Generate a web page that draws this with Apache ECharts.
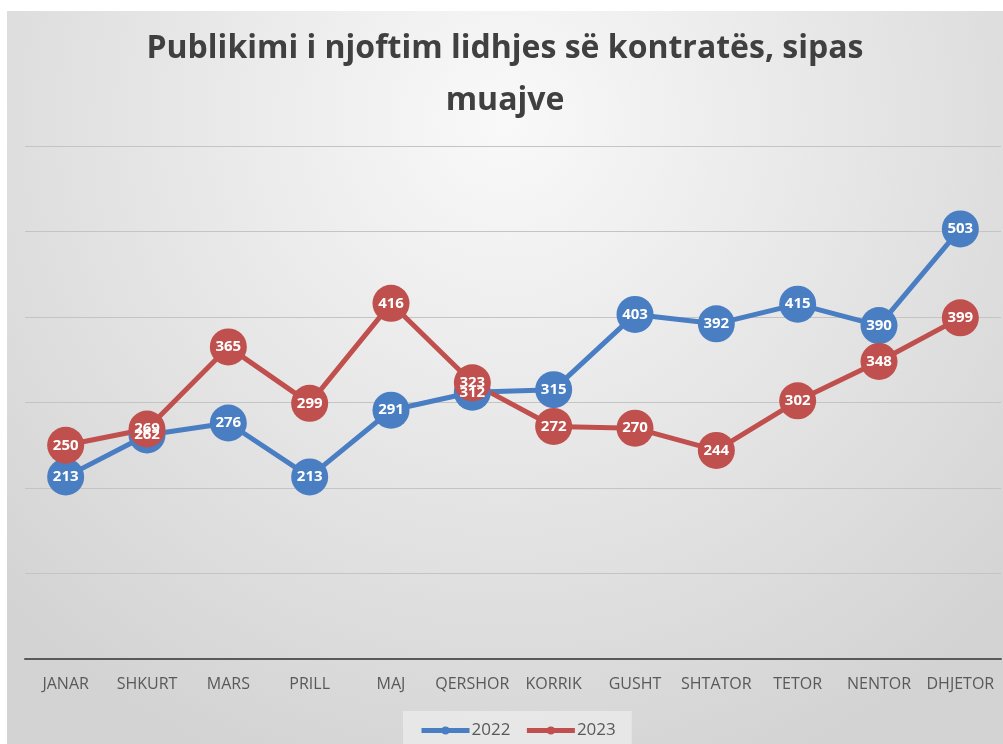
<!DOCTYPE html>
<html>
<head>
<meta charset="utf-8">
<script src="https://cdn.jsdelivr.net/npm/echarts@6/dist/echarts.min.js"></script>
<style>
  html, body { margin: 0; padding: 0; background: #fff; }
  #chart { position: absolute; left: 7px; top: 11px; width: 996px; height: 733px; }
</style>
</head>
<body>
<div id="chart"></div>
<script>
var months = ['JANAR', 'SHKURT', 'MARS', 'PRILL', 'MAJ', 'QERSHOR', 'KORRIK', 'GUSHT', 'SHTATOR', 'TETOR', 'NENTOR', 'DHJETOR'];
var values2022 = [213, 262, 276, 213, 291, 312, 315, 403, 392, 415, 390, 503];
var values2023 = [250, 269, 365, 299, 416, 323, 272, 270, 244, 302, 348, 399];

var blue = '#4a7ec2';
var red = '#c0504d';

var chart = echarts.init(document.getElementById('chart'));

function lineSeries(name, data, color) {
    return {
        name: name,
        type: 'line',
        data: data,
        symbol: 'circle',
        symbolSize: 37,
        lineStyle: { color: color, width: 5 },
        itemStyle: { color: color },
        label: {
            show: true,
            position: 'inside',
            color: '#fff',
            fontWeight: 'bold',
            fontSize: 15,
            fontFamily: 'Open Sans'
        },
        emphasis: { disabled: true }
    };
}

var option = {
    backgroundColor: {
        type: 'radial', x: 0.5, y: 0.15, r: 0.95,
        colorStops: [
            { offset: 0, color: '#f9f9f9' },
            { offset: 1, color: '#d3d3d3' }
        ]
    },
    animation: false,
    title: {
        text: 'Publikimi i njoftim lidhjes së kontratës, sipas\nmuajve',
        left: 'center',
        top: 7,
        textStyle: {
            fontFamily: 'Open Sans',
            fontSize: 32,
            fontWeight: 'bold',
            color: '#404040',
            lineHeight: 52
        }
    },
    legend: {
        data: ['2022', '2023'],
        bottom: 0,
        left: 396,
        itemWidth: 48,
        itemHeight: 10,
        itemGap: 14,
        padding: [11, 16, 5, 16],
        backgroundColor: 'rgba(235,235,235,0.8)',
        lineStyle: { width: 5 },
        textStyle: { fontFamily: 'Open Sans', fontSize: 17, color: '#595959', padding: [0, 0, 0, -3] }
    },
    grid: { left: 18, right: 2, top: 135, bottom: 85 },
    xAxis: {
        type: 'category',
        data: months,
        boundaryGap: true,
        axisLine: { lineStyle: { color: '#595959', width: 2 } },
        axisTick: { show: false },
        axisLabel: {
            interval: 0,
            margin: 17,
            fontFamily: 'Open Sans',
            fontSize: 16,
            color: '#595959'
        }
    },
    yAxis: {
        type: 'value',
        min: 0,
        max: 600,
        interval: 100,
        axisLabel: { show: false },
        axisLine: { show: false },
        axisTick: { show: false },
        splitLine: { lineStyle: { color: '#c4c4c4', width: 1 } }
    },
    series: [
        lineSeries('2022', values2022, blue),
        lineSeries('2023', values2023, red)
    ]
};

chart.setOption(option);
</script>
</body>
</html>
